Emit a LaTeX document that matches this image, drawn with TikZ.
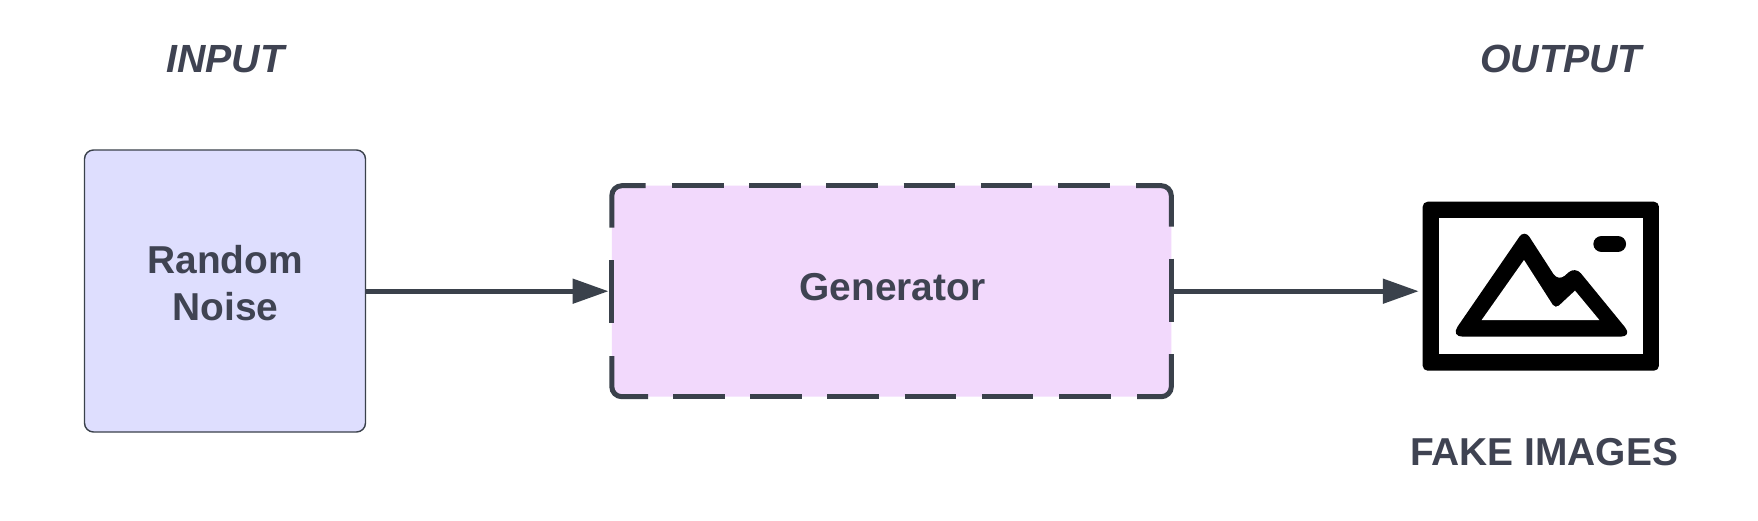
\documentclass[tikz,border=0pt]{standalone}
\usepackage{fontspec}
\setmainfont{Liberation Sans}
\usetikzlibrary{arrows.meta}
\definecolor{inkline}{HTML}{3A414B}
\definecolor{inktext}{HTML}{3F4352}
\definecolor{noisefill}{HTML}{DEDEFE}
\definecolor{genfill}{HTML}{F2D9FC}
\tikzset{
  lbl/.style={anchor=base,inner sep=0pt,text=inktext,font=\fontsize{38.9}{47}\selectfont\bfseries,align=center},
  lblit/.style={lbl,font=\fontsize{39.3}{47}\selectfont\bfseries\itshape},
  flow/.style={draw=inkline,line width=5pt,-{Triangle[length=36pt,width=24pt]}},
  gendash/.style={draw=inkline,line width=5pt,rounded corners=10pt},
  iconline/.style={draw=black,line width=16.7pt,line join=round,line cap=round}
}
\begin{document}
\begin{tikzpicture}[x=1pt,y=-1pt]
\useasboundingbox[fill=white] (0,0) rectangle (1758,520);
% boxes
\node[draw=inkline,line width=1.4pt,fill=noisefill,rounded corners=9pt,minimum width=281pt,minimum height=282pt,inner sep=0pt] (noise) at (225,291) {};
\node[fill=genfill,rounded corners=10pt,minimum width=559.5pt,minimum height=211pt,inner sep=0pt] (gen) at (891.5,291.2) {};
% dashed generator border
\draw[gendash] (611.8,227.7) |- (645.7,185.7);
\draw[gendash] (1136,185.7) -| (1171.3,226.7);
\draw[gendash] (611.8,356) |- (648,396.7);
\draw[gendash] (1137,396.7) -| (1171.3,354);
\foreach \xx in {672,749.2,826.4,903.6,980.8,1058}{
  \draw[gendash] (\xx,185.7) -- ++(51.5,0);
  \draw[gendash] (\xx+1,396.7) -- ++(51.5,0);
}
\draw[gendash] (611.8,260) -- (611.8,323.3);
\draw[gendash] (1171.3,258.7) -- (1171.3,321.7);
% icon
\node[fill=black,rounded corners=5pt,minimum width=236.3pt,minimum height=169pt,inner sep=0pt] (icon) at (1540.8,286.2) {};
\node[fill=white,minimum width=203.7pt,minimum height=135.7pt,inner sep=0pt] (iconinner) at (icon.center) {};
\begin{scope}[shift={(1380,170)},x=0.33333pt,y=-0.33333pt]
  \fill[black,rounded corners=12pt] (480,500) -- (212,500) [rounded corners=9pt] -- (433.5,178) -- (535,335) -- (585.4,289) [rounded corners=12pt] -- (758,500) -- cycle;
  \fill[white] (305,450) -- (432,270) [rounded corners=5pt] -- (526,417) [sharp corners] -- (585,362) -- (658,450) -- cycle;
\end{scope}
\draw[iconline] (1601.7,244) -- (1617.7,244);
% connectors
\draw[flow,shorten >=3pt] (noise.east |- gen.center) -- (gen.west);
\coordinate (iconin) at (gen.east -| icon.west);
\draw[flow,shorten >=3.7pt] (gen.east) -- (iconin);
% labels
\node[lblit] (inputlbl) at (225.2,72) {INPUT};
\node[lblit] (outputlbl) at (1561,72) {OUTPUT};
\node[lbl] (noiselbl) at (225.3,320) {Random\\Noise};
\node[lbl] (genlbl) at (892.4,300.3) {Generator};
\node[lbl] (fakelbl) at (1544,465.7) {FAKE IMAGES};
\end{tikzpicture}
\end{document}
